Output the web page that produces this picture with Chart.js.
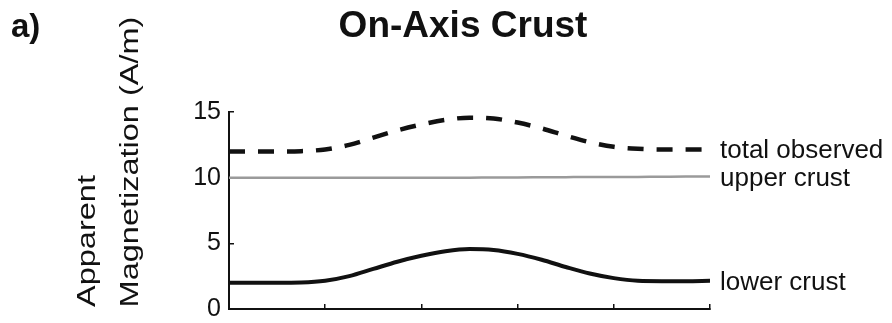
<!DOCTYPE html>
<html>
<head>
<meta charset="utf-8">
<title>On-Axis Crust</title>
<script src="https://cdn.jsdelivr.net/npm/chart.js@4/dist/chart.umd.min.js"></script>
<style>
  html, body { margin: 0; padding: 0; background: #fff; }
  #wrap { width: 892px; height: 323px; }
</style>
</head>
<body>
<div id="wrap"><canvas id="c" width="892" height="323"></canvas></div>
<script>
// Along-profile position (arbitrary units, 0-100)
const position = [0, 5, 10, 15, 20, 25, 30, 35, 40, 45, 50, 55, 60, 65, 70, 75, 80, 85, 90, 95, 100];

// Apparent magnetization (A/m)
const totalObserved = [12.0, 12.0, 12.0, 12.02, 12.15, 12.5, 13.05, 13.6, 14.05, 14.4, 14.57, 14.5, 14.2, 13.75, 13.2, 12.7, 12.35, 12.2, 12.15, 12.15, 12.15];
const upperCrust    = [10.0, 10.0, 10.0, 10.0, 10.0, 10.0, 10.0, 10.0, 10.0, 10.0, 10.0, 10.02, 10.02, 10.03, 10.04, 10.05, 10.05, 10.06, 10.07, 10.08, 10.08];
const lowerCrust    = [2.0, 2.0, 2.0, 2.02, 2.15, 2.5, 3.05, 3.6, 4.05, 4.4, 4.57, 4.5, 4.2, 3.75, 3.2, 2.7, 2.35, 2.15, 2.12, 2.12, 2.15];

const seriesNames = ['total observed', 'upper crust', 'lower crust'];
const yTicks = [0, 5, 10, 15];
const chartTitle = 'On-Axis Crust';
const panelTag = 'a)';
const yLabelLines = ['Apparent', 'Magnetization (A/m)'];

const FONT = '"Liberation Sans", Arial, Helvetica, sans-serif';
const INK = '#111';

function pts(values) {
  return values.map((v, i) => ({ x: position[i], y: v }));
}

// Title, panel tag, two-line axis caption and line-end labels
const annotate = {
  id: 'annotate',
  afterDraw(chart) {
    const ctx = chart.ctx;
    const area = chart.chartArea;
    ctx.save();
    ctx.fillStyle = INK;
    ctx.textBaseline = 'alphabetic';

    ctx.font = 'bold 33px ' + FONT;
    ctx.textAlign = 'left';
    ctx.fillText(panelTag, 11, 37);

    ctx.font = 'bold 37px ' + FONT;
    ctx.textAlign = 'center';
    ctx.fillText(chartTitle, 463, 37);

    // rotated caption, slightly elongated along its length
    ctx.font = '25px ' + FONT;
    const capX = [95, 138];
    const capY = [241, 162];
    yLabelLines.forEach((line, i) => {
      ctx.save();
      ctx.translate(capX[i], capY[i]);
      ctx.rotate(-Math.PI / 2);
      ctx.scale(1.3, 1);
      ctx.textAlign = 'center';
      ctx.fillText(line, 0, 0);
      ctx.restore();
    });

    // series names beside each line's last point
    ctx.font = '26px ' + FONT;
    ctx.textAlign = 'left';
    chart.data.datasets.forEach((ds, i) => {
      const meta = chart.getDatasetMeta(i);
      const last = meta.data[meta.data.length - 1];
      ctx.fillText(ds.label, area.right + 10, last.y + 9);
    });
    ctx.restore();
  }
};

new Chart(document.getElementById('c'), {
  type: 'line',
  data: {
    datasets: [
      {
        label: seriesNames[0],
        data: pts(totalObserved),
        borderColor: '#111',
        borderWidth: 4.5,
        borderDash: [16, 13],
        borderCapStyle: 'butt',
        pointRadius: 0,
        cubicInterpolationMode: 'monotone',
        fill: false
      },
      {
        label: seriesNames[1],
        data: pts(upperCrust),
        borderColor: '#9a9a9a',
        borderWidth: 2.5,
        pointRadius: 0,
        cubicInterpolationMode: 'monotone',
        fill: false
      },
      {
        label: seriesNames[2],
        data: pts(lowerCrust),
        borderColor: '#111',
        borderWidth: 4,
        pointRadius: 0,
        cubicInterpolationMode: 'monotone',
        fill: false
      }
    ]
  },
  options: {
    responsive: false,
    devicePixelRatio: 1,
    animation: false,
    events: [],
    layout: { padding: { left: 0, right: 182, top: 112, bottom: 14 } },
    plugins: {
      legend: { display: false },
      tooltip: { enabled: false },
      title: { display: false }
    },
    scales: {
      x: {
        type: 'linear',
        min: 0,
        max: 100,
        ticks: { stepSize: 20, display: false },
        grid: { drawOnChartArea: false, drawTicks: true, tickLength: -5, color: INK, lineWidth: 1.5 },
        border: { display: true, color: INK, width: 2 },
        afterFit(scale) {
          scale.height = 0;
          scale.paddingLeft = 0;
          scale.paddingRight = 0;
        }
      },
      y: {
        min: 0,
        max: 15,
        afterBuildTicks(scale) { scale.ticks = yTicks.map(v => ({ value: v })); },
        ticks: {
          color: INK,
          padding: 13,
          font: { family: FONT, size: 25 },
          callback: v => String(v)
        },
        grid: { drawOnChartArea: false, drawTicks: true, tickLength: -5, color: INK, lineWidth: 1.5 },
        border: { display: true, color: INK, width: 2 },
        afterFit(scale) {
          scale.width = 229;
          scale.paddingTop = 0;
          scale.paddingBottom = 0;
        }
      }
    }
  },
  plugins: [annotate]
});
</script>
</body>
</html>
